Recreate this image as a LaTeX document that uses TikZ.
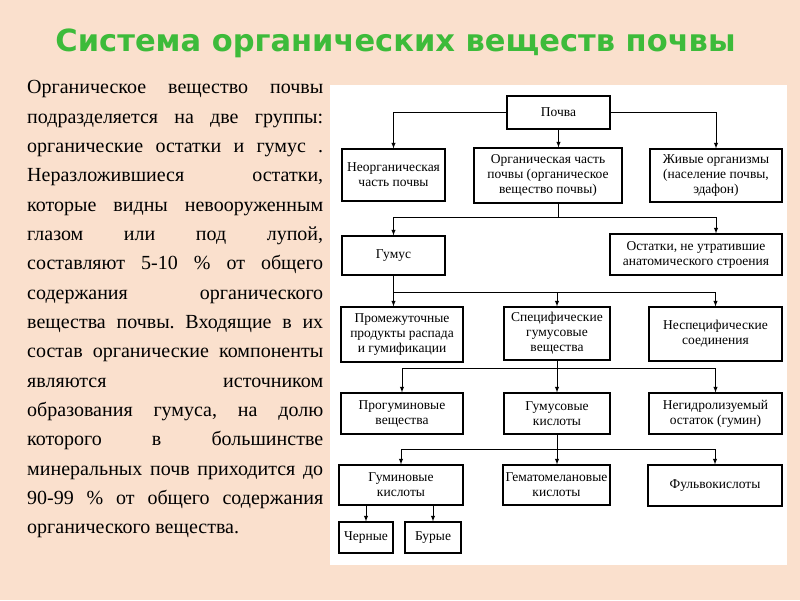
\documentclass[tikz,border=0pt]{standalone}
\usepackage{fontspec}
\setmainfont{Liberation Serif}
\newfontfamily\titlefont{DejaVu Sans}
\definecolor{peach}{HTML}{FAE0CD}
\definecolor{titlegreen}{HTML}{3DBB3A}
\tikzset{box/.style={draw, line width=1.1pt, fill=white, align=center, inner sep=1pt,
		font=\fontsize{13.5}{15}\selectfont},
	link/.style={->, >=latex, line width=0.9pt}}

\begin{document}
\begin{tikzpicture}[x=1pt, y=-1pt]
			% background
			\fill[peach] (0,0) rectangle (800,600);
			\fill[white] (330,85) rectangle (787,565);
			\useasboundingbox (0,0) rectangle (800,600);
			
			% title
			\node[anchor=base, text=titlegreen, font=\titlefont\bfseries\fontsize{30.5}{34}\selectfont] (title) at (395.5,51) {Система органических веществ почвы};
			
			% text
			\node[anchor=north west, inner sep=0pt, text width=296pt, align=justify,
				font=\fontsize{20}{29.33}\selectfont\frenchspacing] (txt) at (27,80.5) {Органическое вещество почвы\linebreak
				подразделяется на две группы:\linebreak
				органические остатки и гумус .\linebreak
				Неразложившиеся остатки,\linebreak
				которые видны невооруженным\linebreak
				глазом или под лупой,\linebreak
				составляют 5-10 \% от общего\linebreak
				содержания органического\linebreak
				вещества почвы. Входящие в их\linebreak
				состав органические компоненты\linebreak
				являются источником\linebreak
				образования гумуса, на долю\linebreak
				которого в большинстве\linebreak
				минеральных почв приходится до\linebreak
				90-99 \% от общего содержания\linebreak
				органического вещества.};
			
			% boxes
			\node[box, minimum width=103pt, minimum height=33pt] (soil) at (558.5,112.5) {Почва};
			\node[box, minimum width=103pt, minimum height=52pt] (inorg) at (393.5,175) {Неорганическая\\часть почвы};
			\node[box, minimum width=148pt, minimum height=55pt] (orgpart) at (548,175.5) {Органическая часть\\почвы (органическое\\вещество почвы)};
			\node[box, minimum width=132pt, minimum height=53pt] (alive) at (716,175.5) {Живые организмы\\(население почвы,\\эдафон)};
			
			\node[box, minimum width=103pt, minimum height=39pt] (humus) at (393.5,255.5) {Гумус};
			\node[box, minimum width=172pt, minimum height=41pt] (remains) at (696,254.5) {Остатки, не утратившие\\анатомического строения};
			
			\node[box, minimum width=122pt, minimum height=55pt] (inter) at (402,334.5) {Промежуточные\\продукты распада\\и гумификации};
			\node[box, minimum width=106pt, minimum height=53pt] (spec) at (557,333.5) {Специфические\\гумусовые\\вещества};
			\node[box, minimum width=133pt, minimum height=54pt] (nonspec) at (715.5,334) {Неспецифические\\соединения};
			
			\node[box, minimum width=122pt, minimum height=41pt] (prohum) at (402,413.5) {Прогуминовые\\вещества};
			\node[box, minimum width=106pt, minimum height=41pt] (humacid) at (557,413.5) {Гумусовые\\кислоты};
			\node[box, minimum width=133pt, minimum height=41pt] (humin) at (715.5,413.5) {Негидролизуемый\\остаток (гумин)};
			
			\node[box, minimum width=124pt, minimum height=40pt] (huminic) at (401,485) {Гуминовые\\кислоты};
			\node[box, minimum width=107pt, minimum height=40pt] (hemato) at (556.5,485) {Гематомелановые\\кислоты};
			\node[box, minimum width=134pt, minimum height=41pt] (fulvo) at (715,485.5) {Фульвокислоты};
			
			\node[box, minimum width=54pt, minimum height=31pt] (black) at (366,537.5) {Черные};
			\node[box, minimum width=56pt, minimum height=31pt] (brown) at (433,537.5) {Бурые};
			
			% arrows
			\draw[link] (soil.west) -| (inorg.north);
			\draw[link] (soil.east) -| (alive.north);
			\draw[link] (soil.south) -- (soil.south |- orgpart.north);
			
			\draw[link] (orgpart.south -| soil.south) -- ++(0,14) -| (humus.north);
			\draw[link] (orgpart.south -| soil.south) -- ++(0,14) -| (alive.south |- remains.north);
			
			\draw[link] (humus.south) -- (humus.south |- inter.north);
			\draw[link] (humus.south) ++(0,17) -| (spec.north);
			\draw[link] (humus.south) ++(0,17) -| (nonspec.north);
			
			\draw[link] (spec.south) -- (humacid.north);
			\draw[link] (spec.south) ++(0,8) -| (prohum.north);
			\draw[link] (spec.south) ++(0,8) -| (humin.north);
			
			\draw[link] (humacid.south) -- (humacid.south |- hemato.north);
			\draw[link] (humacid.south) ++(0,15) -| (huminic.north);
			\draw[link] (humacid.south) ++(0,15) -| (fulvo.north);
			
			\draw[link] (black.north |- huminic.south) -- (black.north);
			\draw[link] (brown.north |- huminic.south) -- (brown.north);
\end{tikzpicture}
\end{document}
